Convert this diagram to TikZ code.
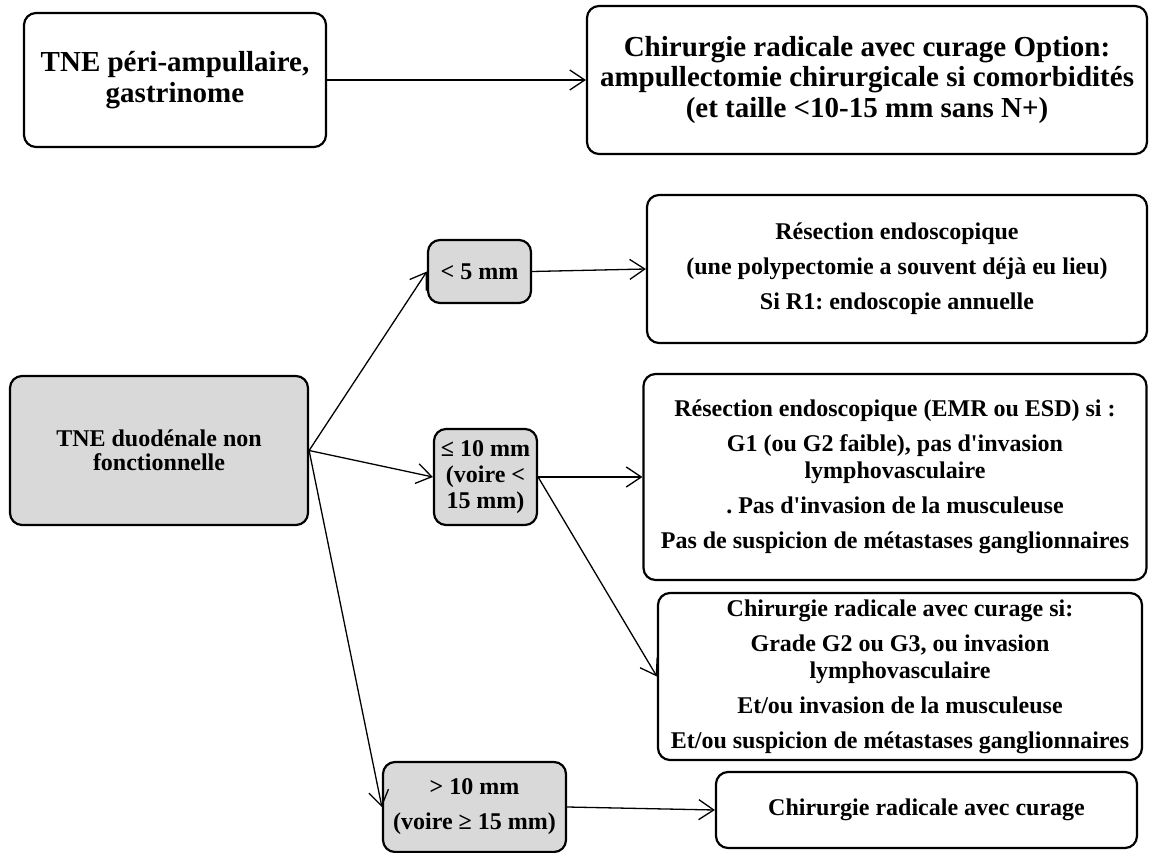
\documentclass[tikz,border=0pt]{standalone}
\usepackage{fontspec}
\setmainfont{Liberation Serif}
\usetikzlibrary{arrows.meta}
\definecolor{boxgray}{HTML}{D9D9D9}
\newcommand{\apos}{\textquotesingle}
\frenchspacing
\begin{document}
\begin{tikzpicture}[x=1pt,y=-1pt,
  box/.style={draw, line width=2.2pt, rounded corners=12pt, align=center, inner sep=0pt,
    font=\bfseries\fontsize{24}{27}\selectfont},
  bigbox/.style={box, font=\bfseries\fontsize{29}{30.5}\selectfont},
  gbox/.style={box, fill=boxgray},
  arr/.style={line width=1.3pt, -{Straight Barb[length=15pt,width=20pt,line width=1.3pt]}}]
\useasboundingbox (0,0) rectangle (1149,853);

\node[bigbox, minimum width=302pt, minimum height=134pt] (A) at (175,80)
  {TNE péri-ampullaire,\\ gastrinome};
\node[bigbox, minimum width=560pt, minimum height=148pt] (B) at (867,80)
  {Chirurgie radicale avec curage Option:\\ ampullectomie chirurgicale si comorbidités\\ (et taille <10-15 mm sans N+)};

\node[gbox, minimum width=298pt, minimum height=149pt, font=\bfseries\fontsize{24}{24}\selectfont] (C) at (159,450.5)
  {TNE duodénale non\\ fonctionnelle};
\node[gbox, minimum width=103pt, minimum height=63pt] (S5) at (479.5,271.5) {< 5 mm};
\node[gbox, minimum width=103pt, minimum height=96pt, font=\bfseries\fontsize{24}{26}\selectfont] (S10) at (485.5,477)
  {≤ 10 mm\\ (voire <\\ 15 mm)};
\node[gbox, minimum width=183pt, minimum height=90pt] (S15) at (474.5,807)
  {> 10 mm\\[8pt] (voire ≥ 15 mm)};

\node[box, minimum width=500pt, minimum height=148pt] (D1) at (897,269)
  {Résection endoscopique\\[8pt] (une polypectomie a souvent déjà eu lieu)\\[8pt] Si R1: endoscopie annuelle};
\node[box, minimum width=503pt, minimum height=206pt] (D2) at (895,477)
  {Résection endoscopique (EMR ou ESD) si :\\[8pt] G1 (ou G2 faible), pas d\apos invasion\\ lymphovasculaire\\[8pt] . Pas d\apos invasion de la musculeuse\\[8pt] Pas de suspicion de métastases ganglionnaires};
\node[box, minimum width=484pt, minimum height=167pt] (D3) at (900,676.5)
  {Chirurgie radicale avec curage si:\\[8pt] Grade G2 ou G3, ou invasion\\ lymphovasculaire\\[8pt] Et/ou invasion de la musculeuse\\[8pt] Et/ou suspicion de métastases ganglionnaires};
\node[box, minimum width=421pt, minimum height=76pt] (D4) at (926.5,810)
  {Chirurgie radicale avec curage};

\draw[arr] (A.east) -- (B.west);
\draw[arr] (C.east) -- (S5.west);
\draw[arr] (C.east) -- (S10.west);
\draw[arr] (C.east) -- (S15.west);
\draw[arr] (S5.east) -- (D1.west);
\draw[arr] (S10.east) -- (D2.west);
\draw[arr] (S10.east) -- (D3.west);
\draw[arr] (S15.east) -- (D4.west);
\end{tikzpicture}
\end{document}
